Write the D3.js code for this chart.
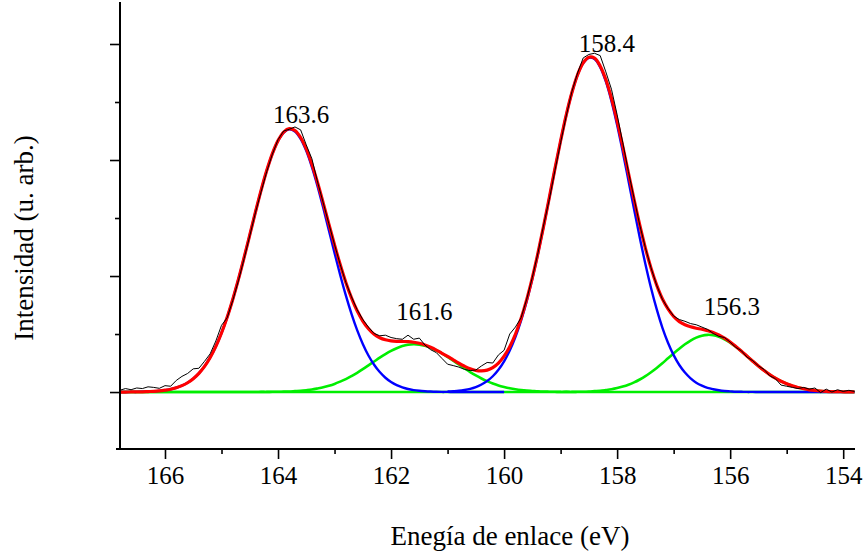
<!DOCTYPE html>
<html>
<head>
<meta charset="utf-8">
<script src="https://cdn.jsdelivr.net/npm/d3@7"></script>
<style>
  html, body { margin: 0; padding: 0; background: #fff; }
  svg { display: block; }
  text { font-family: "Liberation Serif", "Times New Roman", "DejaVu Serif", serif; fill: #000; }
</style>
</head>
<body>
<svg id="chart" width="865" height="554"></svg>
<script>
// ---- Data ----
// Binding energy grid (eV), 0.1 eV step, high -> low
const energies = [
  166.8,166.7,166.6,166.5,166.4,166.3,166.2,166.1,166.0,165.9,
  165.8,165.7,165.6,165.5,165.4,165.3,165.2,165.1,165.0,164.9,
  164.8,164.7,164.6,164.5,164.4,164.3,164.2,164.1,164.0,163.9,
  163.8,163.7,163.6,163.5,163.4,163.3,163.2,163.1,163.0,162.9,
  162.8,162.7,162.6,162.5,162.4,162.3,162.2,162.1,162.0,161.9,
  161.8,161.7,161.6,161.5,161.4,161.3,161.2,161.1,161.0,160.9,
  160.8,160.7,160.6,160.5,160.4,160.3,160.2,160.1,160.0,159.9,
  159.8,159.7,159.6,159.5,159.4,159.3,159.2,159.1,159.0,158.9,
  158.8,158.7,158.6,158.5,158.4,158.3,158.2,158.1,158.0,157.9,
  157.8,157.7,157.6,157.5,157.4,157.3,157.2,157.1,157.0,156.9,
  156.8,156.7,156.6,156.5,156.4,156.3,156.2,156.1,156.0,155.9,
  155.8,155.7,155.6,155.5,155.4,155.3,155.2,155.1,155.0,154.9,
  154.8,154.7,154.6,154.5,154.4,154.3,154.2,154.1,154.0,153.9,
  153.8
];

// Measured spectrum (black, noisy)
const measured = [
  0.015,0.030,0.020,0.035,0.030,0.045,0.040,0.032,0.055,0.050,
  0.100,0.135,0.160,0.200,0.205,0.265,0.330,0.440,0.575,0.640,
  0.790,0.960,1.150,1.345,1.545,1.725,1.900,2.050,2.175,2.250,
  2.265,2.285,2.260,2.130,2.010,1.810,1.630,1.450,1.270,1.100,
  0.945,0.820,0.710,0.625,0.560,0.505,0.485,0.490,0.470,0.460,
  0.455,0.490,0.455,0.465,0.405,0.365,0.340,0.290,0.240,0.228,
  0.215,0.195,0.185,0.190,0.225,0.255,0.250,0.320,0.360,0.500,
  0.560,0.640,0.800,0.990,1.200,1.440,1.660,1.910,2.150,2.380,
  2.590,2.750,2.880,2.910,2.920,2.900,2.760,2.610,2.390,2.150,
  1.900,1.670,1.440,1.245,1.070,0.920,0.800,0.720,0.655,0.625,
  0.610,0.590,0.580,0.560,0.540,0.505,0.480,0.470,0.430,0.385,
  0.355,0.300,0.270,0.225,0.195,0.140,0.115,0.060,0.050,0.040,
  0.030,0.040,0.025,0.035,-0.005,0.025,0.000,0.020,0.005,0.015,
  0.005
];

// Fit component: peak at 163.6 (blue)
const comp1636 = [
  0.000,0.000,0.001,0.001,0.002,0.004,0.006,0.010,0.016,0.024,
  0.037,0.055,0.080,0.115,0.161,0.221,0.298,0.393,0.509,0.644,
  0.800,0.973,1.160,1.354,1.550,1.737,1.908,2.053,2.165,2.237,
  2.265,2.246,2.183,2.079,1.939,1.773,1.588,1.393,1.198,1.009,
  0.833,0.674,0.534,0.415,0.315,0.235,0.172,0.123,0.086,0.059,
  0.040,0.026,0.017,0.011,0.007,0.004,0.002,0.001,0.001,0.000,
  0.000,0.000,0.000,0.000,0.000,0.000,0.000,0.000,0.000,null,
  null,null,null,null,null,null,null,null,null,null,
  null,null,null,null,null,null,null,null,null,null,
  null,null,null,null,null,null,null,null,null,null,
  null,null,null,null,null,null,null,null,null,null,
  null,null,null,null,null,null,null,null,null,null,
  null,null,null,null,null,null,null,null,null,null,
  null
];

// Fit component: peak at 161.6 (green)
const comp1616 = [
  0,0,0,0,0,0,0,0,0,0,
  0,0,0,0,0,0,0,0,0,0,
  0.000,0.000,0.000,0.000,0.000,0.001,0.001,0.002,0.002,0.004,
  0.005,0.008,0.011,0.016,0.022,0.031,0.041,0.054,0.070,0.090,
  0.112,0.138,0.166,0.197,0.230,0.263,0.296,0.327,0.355,0.378,
  0.396,0.408,0.412,0.409,0.399,0.382,0.360,0.333,0.302,0.270,
  0.237,0.204,0.172,0.143,0.117,0.094,0.074,0.057,0.044,0.033,
  0.024,0.017,0.012,0.009,0.006,0.004,0.003,0.002,0.001,0.001,
  0,0,0,0,0,0,0,0,0,0,
  0,0,0,0,0,0,0,0,0,0,
  0,0,0,0,0,0,0,0,0,0,
  0,0,0,0,0,0,0,0,0,0,
  0,0,0,0,0,0,0,0,0,0,
  0
];

// Fit component: peak at 158.4 (blue)
const comp1584 = [
  null,null,null,null,null,null,null,null,null,null,
  null,null,null,null,null,null,null,null,null,null,
  null,null,null,null,null,null,null,null,null,null,
  null,null,null,null,null,null,null,null,null,null,
  null,null,null,null,null,null,null,null,null,null,
  null,null,null,null,null,null,null,null,0.004,0.007,
  0.011,0.018,0.028,0.043,0.065,0.095,0.136,0.192,0.265,0.358,
  0.474,0.616,0.784,0.977,1.193,1.428,1.674,1.924,2.165,2.388,
  2.581,2.733,2.835,2.881,2.870,2.800,2.677,2.508,2.302,2.070,
  1.824,1.575,1.332,1.104,0.897,0.714,0.556,0.425,0.318,0.233,
  0.168,0.118,0.081,0.055,0.036,0.024,0.015,0.009,0.006,0.003,
  0.002,0.001,0.001,0.000,0.000,0.000,0.000,0.000,0.000,0.000,
  0.000,0.000,0.000,0.000,0.000,0.000,0.000,0.000,0.000,0.000,
  0.000
];

// Fit component: peak at 156.3 (green)
const comp1563 = [
  0,0,0,0,0,0,0,0,0,0,
  0,0,0,0,0,0,0,0,0,0,
  0,0,0,0,0,0,0,0,0,0,
  0,0,0,0,0,0,0,0,0,0,
  0,0,0,0,0,0,0,0,0,0,
  0,0,0,0,0,0,0,0,0,0,
  0,0,0,0,0,0,0,0,0,0,
  0.000,0.000,0.000,0.000,0.000,0.000,0.000,0.000,0.000,0.001,
  0.001,0.002,0.003,0.005,0.008,0.011,0.017,0.024,0.034,0.047,
  0.063,0.083,0.108,0.137,0.171,0.208,0.248,0.291,0.333,0.374,
  0.412,0.444,0.469,0.486,0.493,0.490,0.477,0.455,0.426,0.390,
  0.350,0.308,0.265,0.224,0.185,0.150,0.119,0.093,0.071,0.053,
  0.039,0.028,0.019,0.013,0.009,0.006,0.004,0.003,0.002,0.001,
  0.001
];

const peakLabels = ["163.6", "161.6", "158.4", "156.3"];
const peakLabelEnergy = [163.59, 161.41, 158.18, 155.97];
const peakLabelLevel = [2.32, 0.62, 2.93, 0.66];

const xMajorTicks = [166, 164, 162, 160, 158, 156, 154];
const xMinorTicks = [165, 163, 161, 159, 157, 155];
const yMajorTicks = [0, 1, 2, 3];
const yMinorTicks = [0.5, 1.5, 2.5];

const xTitle = "Enegía de enlace (eV)";
const yTitle = "Intensidad (u. arb.)";

// ---- Drawing ----
const svg = d3.select("#chart");
const x = d3.scaleLinear().domain([166.796, 153.80]).range([120, 854.5]);
const y = d3.scaleLinear().domain([-0.491, 3.362]).range([449, 2]);

const fitTotal = energies.map((e, i) =>
  (comp1636[i] || 0) + (comp1616[i] || 0) + (comp1584[i] || 0) + (comp1563[i] || 0));

function lineFor(values, curve) {
  return d3.line()
    .defined((d, i) => values[i] !== null)
    .x((d, i) => x(energies[i]))
    .y((d, i) => y(values[i]))
    .curve(curve)(energies);
}

const plot = svg.append("g");
const smooth = d3.curveCatmullRom.alpha(0.5);

// green components (full range, forming the baseline)
[comp1616, comp1563].forEach(vals => {
  plot.append("path").attr("d", lineFor(vals, smooth))
    .attr("fill", "none").attr("stroke", "#00ee00").attr("stroke-width", 2.6)
    .attr("stroke-linejoin", "round");
});
// blue components
[comp1636, comp1584].forEach(vals => {
  plot.append("path").attr("d", lineFor(vals, smooth))
    .attr("fill", "none").attr("stroke", "#0000ff").attr("stroke-width", 2.4)
    .attr("stroke-linejoin", "round");
});
// total fit (red)
plot.append("path").attr("d", lineFor(fitTotal, smooth))
  .attr("fill", "none").attr("stroke", "#ff0000").attr("stroke-width", 3.2)
  .attr("stroke-linejoin", "round");
// measured data (black)
plot.append("path").attr("d", lineFor(measured, d3.curveLinear))
  .attr("fill", "none").attr("stroke", "#000").attr("stroke-width", 1)
  .attr("stroke-linejoin", "round");

// peak labels
plot.selectAll("text.peak").data(peakLabels).enter().append("text")
  .attr("class", "peak")
  .attr("x", (d, i) => x(peakLabelEnergy[i]))
  .attr("y", (d, i) => y(peakLabelLevel[i]))
  .attr("text-anchor", "middle")
  .attr("font-size", 25)
  .text(d => d);

// axes
const xAxisG = svg.append("g").attr("transform", `translate(0,${y(-0.491)})`);
xAxisG.call(d3.axisBottom(x).tickValues(xMajorTicks).tickSize(10).tickPadding(7).tickFormat(d3.format("d")));
xAxisG.append("g").call(d3.axisBottom(x).tickValues(xMinorTicks).tickSize(5).tickFormat(""));
xAxisG.selectAll(".domain").remove();
xAxisG.selectAll("line").attr("stroke", "#000").attr("stroke-width", 1.6);
xAxisG.selectAll("text").attr("font-size", 25).attr("font-family", "Liberation Serif, Times New Roman, serif").attr("fill", "#000");
xAxisG.append("line").attr("x1", 116).attr("x2", 855).attr("y1", 0).attr("y2", 0)
  .attr("stroke", "#000").attr("stroke-width", 2);

const yAxisG = svg.append("g").attr("transform", `translate(${x(166.796)},0)`);
yAxisG.call(d3.axisLeft(y).tickValues(yMajorTicks).tickSize(10).tickFormat(""));
yAxisG.append("g").call(d3.axisLeft(y).tickValues(yMinorTicks).tickSize(5).tickFormat(""));
yAxisG.selectAll(".domain").remove();
yAxisG.selectAll("line").attr("stroke", "#000").attr("stroke-width", 1.6);
yAxisG.append("line").attr("x1", 0).attr("x2", 0).attr("y1", 2).attr("y2", 450)
  .attr("stroke", "#000").attr("stroke-width", 2);

// axis titles
svg.append("text").attr("x", 510).attr("y", 545).attr("text-anchor", "middle")
  .attr("font-size", 27).text(xTitle);
svg.append("text").attr("transform", "translate(33,238) rotate(-90)")
  .attr("text-anchor", "middle").attr("font-size", 27).text(yTitle);
</script>
</body>
</html>
